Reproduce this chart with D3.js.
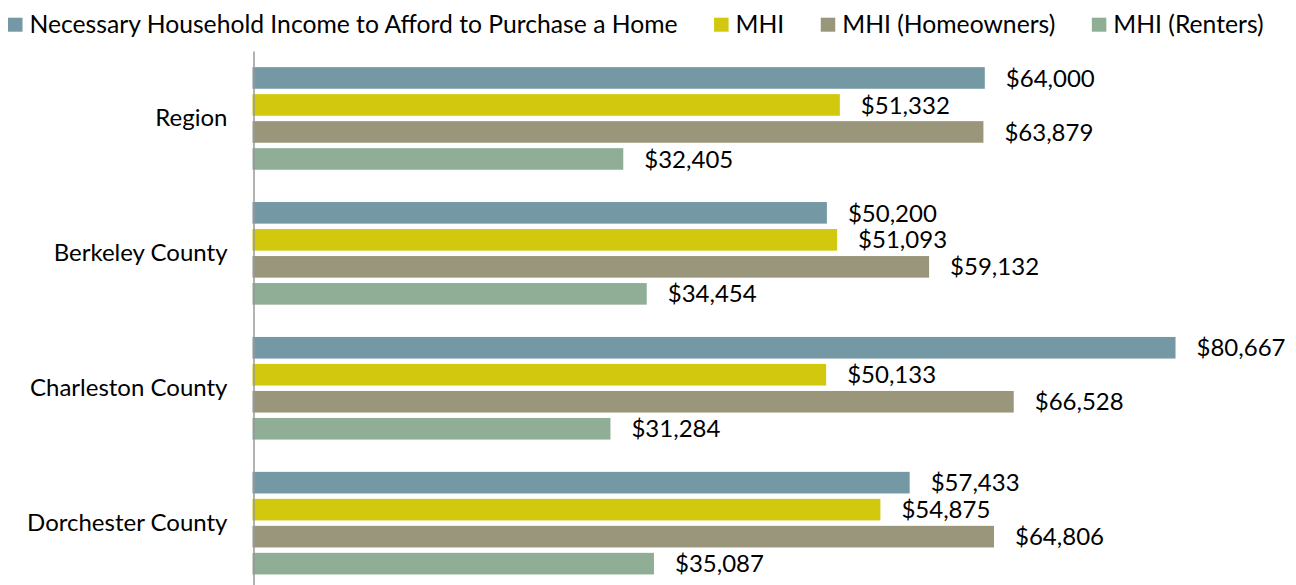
<!DOCTYPE html>
<html>
<head>
<meta charset="utf-8">
<script src="https://cdn.jsdelivr.net/npm/d3@7/dist/d3.min.js"></script>
<style>
  html, body { margin: 0; padding: 0; background: #fff; }
  svg text { font-family: Lato, "Open Sans", "Liberation Sans", sans-serif; fill: #000; }
</style>
</head>
<body>
<svg id="chart" width="1296" height="585"></svg>
<script>
// Household income vs. income needed to buy a home, by area
const categories = ["Region", "Berkeley County", "Charleston County", "Dorchester County"];
const seriesNames = [
  "Necessary Household Income to Afford to Purchase a Home",
  "MHI",
  "MHI (Homeowners)",
  "MHI (Renters)"
];
const necessaryIncome = [64000, 50200, 80667, 57433];
const mhiAll = [51332, 51093, 50133, 54875];
const mhiOwners = [63879, 59132, 66528, 64806];
const mhiRenters = [32405, 34454, 31284, 35087];
const seriesColors = ["#7598a5", "#d2c80e", "#9a967b", "#90ad95"];

const seriesValues = [necessaryIncome, mhiAll, mhiOwners, mhiRenters];

const svg = d3.select("#chart");
const fontSize = 24;
const legendFontSize = 24.7;

// Scales
const x = d3.scaleLinear().domain([0, 90000]).range([252.5, 1282.3]);
const y0 = d3.scaleBand()
  .domain(categories)
  .range([51, 590.6])
  .paddingInner(0.2394)
  .paddingOuter(0.1197);
const y1 = d3.scaleBand()
  .domain(seriesNames)
  .range([0, y0.bandwidth()])
  .paddingInner(0.2)
  .paddingOuter(0);

const fmt = v => "$" + d3.format(",")(v);

// Bars and value labels
const groups = svg.append("g").selectAll("g")
  .data(categories)
  .join("g")
  .attr("transform", c => `translate(0,${y0(c)})`);

groups.selectAll("rect")
  .data((c, i) => seriesNames.map((s, k) => ({ s, k, v: seriesValues[k][i] })))
  .join("rect")
  .attr("x", x(0))
  .attr("y", d => y1(d.s))
  .attr("width", d => x(d.v) - x(0))
  .attr("height", y1.bandwidth())
  .attr("fill", d => seriesColors[d.k]);

groups.selectAll("text.value")
  .data((c, i) => seriesNames.map((s, k) => ({ s, k, v: seriesValues[k][i] })))
  .join("text")
  .attr("class", "value")
  .attr("x", d => x(d.v) + 21)
  .attr("y", d => y1(d.s) + y1.bandwidth() / 2)
  .attr("dy", "0.36em")
  .style("font-size", fontSize + "px")
  .text(d => fmt(d.v));

// Category axis
const axis = svg.append("g")
  .attr("transform", `translate(${x(0) + 1},0)`)
  .call(d3.axisLeft(y0).tickSize(0).tickSizeOuter(0).tickPadding(26));
axis.select(".domain").attr("stroke", "#999").attr("stroke-width", 1.5);
axis.selectAll(".tick text")
  .style("font-size", fontSize + "px")
  .style("font-family", 'Lato, "Open Sans", "Liberation Sans", sans-serif')
  .attr("fill", "#000")
  .attr("dy", "0.32em");

// Legend
const legend = svg.append("g").attr("transform", "translate(8,0)");
let lx = 0;
seriesNames.forEach((name, k) => {
  const item = legend.append("g").attr("transform", `translate(${lx},0)`);
  item.append("rect")
    .attr("x", 0).attr("y", 17.7)
    .attr("width", 14.5).attr("height", 14)
    .attr("fill", seriesColors[k]);
  const t = item.append("text")
    .attr("x", 21.5)
    .attr("y", 24.7)
    .attr("dy", "0.34em")
    .style("font-size", legendFontSize + "px")
    .text(name);
  lx += 21.5 + t.node().getComputedTextLength() + 36.5;
});
</script>
</body>
</html>
